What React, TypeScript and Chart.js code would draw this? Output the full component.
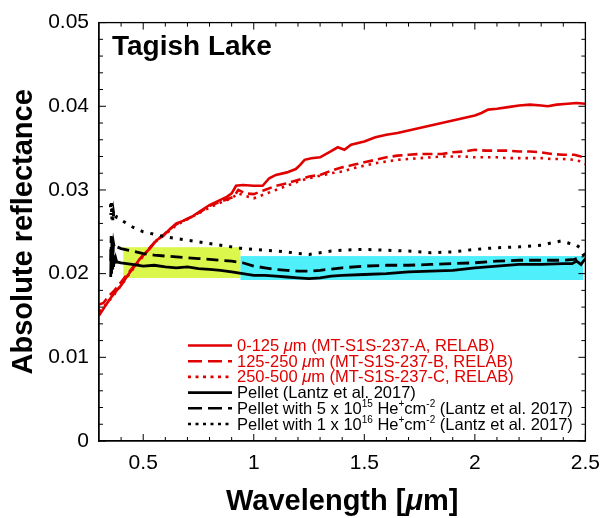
import React, { useEffect, useRef } from "react";
import { Chart, registerables } from "chart.js";

Chart.register(...registerables);

// ---------- axis ticks ----------
const X_TICKS = [0.5, 1, 1.5, 2, 2.5];
const X_TICK_LABELS = ["0.5", "1", "1.5", "2", "2.5"];
const X_MINOR = [0.4, 0.6, 0.7, 0.8, 0.9, 1.1, 1.2, 1.3, 1.4, 1.6, 1.7, 1.8, 1.9, 2.1, 2.2, 2.3, 2.4];
const Y_TICKS = [0, 0.01, 0.02, 0.03, 0.04, 0.05];
const Y_TICK_LABELS = ["0", "0.01", "0.02", "0.03", "0.04", "0.05"];
const Y_MINOR = [0.002, 0.004, 0.006, 0.008, 0.012, 0.014, 0.016, 0.018, 0.022, 0.024, 0.026, 0.028,
  0.032, 0.034, 0.036, 0.038, 0.042, 0.044, 0.046, 0.048];

// ---------- highlighted bands (wavelength range, reflectance range) ----------
const BAND_X = [[0.41, 0.94], [0.94, 2.49]];
const BAND_Y = [[0.01948, 0.02316], [0.01924, 0.0221]];

// ---------- series: 0-125 um (MT-S1S-237-A) ----------
const A_WL = [0.30, 0.32, 0.35, 0.38, 0.40, 0.43, 0.45, 0.48, 0.50, 0.53, 0.56, 0.59, 0.62, 0.65, 0.68, 0.72, 0.76, 0.80, 0.84, 0.88, 0.90, 0.92, 0.95, 1.00, 1.04, 1.07, 1.10, 1.15, 1.19, 1.21, 1.23, 1.26, 1.30, 1.34, 1.38, 1.41, 1.44, 1.50, 1.55, 1.60, 1.65, 1.70, 1.75, 1.80, 1.85, 1.90, 1.95, 2.00, 2.03, 2.06, 2.10, 2.15, 2.20, 2.25, 2.30, 2.33, 2.37, 2.42, 2.46, 2.50];
const A_R = [0.0150, 0.0158, 0.0170, 0.0180, 0.0186, 0.0198, 0.0205, 0.0216, 0.0222, 0.0230, 0.0240, 0.0245, 0.0253, 0.0260, 0.0263, 0.0268, 0.0275, 0.0282, 0.0287, 0.0292, 0.0296, 0.0305, 0.0306, 0.0305, 0.0305, 0.0314, 0.0318, 0.0321, 0.0325, 0.0330, 0.0336, 0.0338, 0.0339, 0.0345, 0.0351, 0.0348, 0.0354, 0.0358, 0.0363, 0.0366, 0.0368, 0.0371, 0.0374, 0.0377, 0.0380, 0.0383, 0.0386, 0.0389, 0.0392, 0.0396, 0.0397, 0.0399, 0.0401, 0.0402, 0.0401, 0.0400, 0.0402, 0.0403, 0.0404, 0.0403];

// ---------- series: 125-250 um (MT-S1S-237-B) ----------
const B_WL = [0.30, 0.32, 0.34, 0.37, 0.40, 0.43, 0.46, 0.50, 0.53, 0.56, 0.59, 0.62, 0.65, 0.68, 0.72, 0.76, 0.80, 0.84, 0.88, 0.91, 0.93, 0.96, 1.00, 1.05, 1.10, 1.15, 1.20, 1.25, 1.30, 1.35, 1.40, 1.45, 1.50, 1.55, 1.60, 1.65, 1.70, 1.75, 1.80, 1.85, 1.90, 1.95, 2.00, 2.05, 2.10, 2.15, 2.20, 2.25, 2.30, 2.35, 2.40, 2.45, 2.48, 2.50];
const B_R = [0.0163, 0.0165, 0.0172, 0.0180, 0.0190, 0.0200, 0.0210, 0.0222, 0.0231, 0.0240, 0.0246, 0.0253, 0.0259, 0.0263, 0.0268, 0.0274, 0.0281, 0.0285, 0.0289, 0.0292, 0.0300, 0.0296, 0.0295, 0.0300, 0.0305, 0.0308, 0.0312, 0.0316, 0.0318, 0.0323, 0.0327, 0.0330, 0.0333, 0.0336, 0.0339, 0.0341, 0.0342, 0.0343, 0.0343, 0.0343, 0.0345, 0.0346, 0.0348, 0.0347, 0.0347, 0.0347, 0.0346, 0.0346, 0.0345, 0.0343, 0.0342, 0.0342, 0.0340, 0.0340];

// ---------- series: 250-500 um (MT-S1S-237-C) ----------
const C_WL = [0.30, 0.33, 0.36, 0.40, 0.45, 0.50, 0.55, 0.60, 0.65, 0.70, 0.75, 0.80, 0.85, 0.90, 0.93, 0.96, 1.00, 1.05, 1.10, 1.15, 1.20, 1.25, 1.30, 1.35, 1.40, 1.45, 1.50, 1.55, 1.60, 1.65, 1.70, 1.75, 1.80, 1.85, 1.90, 1.95, 2.00, 2.05, 2.10, 2.15, 2.20, 2.25, 2.30, 2.35, 2.40, 2.45, 2.48, 2.50];
const C_R = [0.0155, 0.0163, 0.0172, 0.0186, 0.0204, 0.0221, 0.0237, 0.0247, 0.0258, 0.0265, 0.0272, 0.0279, 0.0285, 0.0290, 0.0296, 0.0293, 0.0290, 0.0295, 0.0300, 0.0305, 0.0310, 0.0314, 0.0317, 0.0320, 0.0322, 0.0326, 0.0329, 0.0332, 0.0334, 0.0336, 0.0337, 0.0338, 0.0339, 0.0340, 0.0340, 0.0340, 0.0339, 0.0339, 0.0339, 0.0338, 0.0338, 0.0338, 0.0338, 0.0337, 0.0337, 0.0336, 0.0334, 0.0331];

// ---------- series: Pellet (Lantz et al. 2017) ----------
const P_WL = [0.353, 0.355, 0.357, 0.359, 0.361, 0.363, 0.366, 0.369, 0.372, 0.376, 0.38, 0.40, 0.45, 0.50, 0.55, 0.60, 0.65, 0.70, 0.75, 0.80, 0.85, 0.90, 0.95, 1.00, 1.05, 1.10, 1.15, 1.20, 1.25, 1.30, 1.35, 1.40, 1.50, 1.60, 1.70, 1.80, 1.90, 2.00, 2.10, 2.20, 2.30, 2.40, 2.44, 2.46, 2.48, 2.50];
const P_R = [0.0196, 0.0232, 0.0200, 0.0238, 0.0205, 0.0230, 0.0208, 0.0222, 0.0212, 0.0218, 0.0214, 0.0213, 0.0211, 0.0209, 0.0210, 0.0208, 0.0207, 0.0208, 0.0206, 0.0205, 0.0204, 0.0202, 0.0200, 0.0198, 0.0198, 0.0197, 0.0196, 0.0195, 0.0194, 0.0195, 0.0197, 0.0198, 0.0199, 0.0200, 0.0202, 0.0203, 0.0204, 0.0207, 0.0209, 0.0211, 0.0211, 0.0212, 0.0212, 0.0215, 0.0211, 0.0218];

// ---------- series: Pellet with 5e15 He+ cm-2 ----------
const Q_WL = [0.353, 0.355, 0.357, 0.36, 0.363, 0.366, 0.37, 0.38, 0.40, 0.45, 0.50, 0.55, 0.60, 0.65, 0.70, 0.75, 0.80, 0.85, 0.90, 0.95, 1.00, 1.05, 1.10, 1.15, 1.20, 1.25, 1.30, 1.40, 1.50, 1.60, 1.70, 1.80, 1.90, 2.00, 2.10, 2.20, 2.30, 2.40, 2.45, 2.48, 2.50];
const Q_R = [0.0215, 0.0245, 0.0222, 0.0240, 0.0225, 0.0236, 0.0230, 0.0232, 0.0230, 0.0227, 0.0224, 0.0222, 0.0221, 0.0220, 0.0219, 0.0218, 0.0217, 0.0216, 0.0215, 0.0213, 0.0209, 0.0207, 0.0205, 0.0204, 0.0203, 0.0203, 0.0204, 0.0207, 0.0209, 0.0210, 0.0210, 0.0211, 0.0212, 0.0213, 0.0215, 0.0216, 0.0216, 0.0216, 0.0217, 0.0220, 0.0224];

// ---------- series: Pellet with 1e16 He+ cm-2 ----------
const S_WL = [0.352, 0.354, 0.356, 0.358, 0.36, 0.363, 0.366, 0.37, 0.38, 0.40, 0.45, 0.50, 0.55, 0.60, 0.65, 0.70, 0.75, 0.80, 0.85, 0.90, 0.95, 1.00, 1.05, 1.10, 1.15, 1.20, 1.25, 1.30, 1.35, 1.40, 1.50, 1.60, 1.70, 1.80, 1.90, 2.00, 2.10, 2.20, 2.30, 2.35, 2.39, 2.43, 2.46, 2.48, 2.50];
const S_R = [0.0283, 0.0270, 0.0285, 0.0265, 0.0278, 0.0262, 0.0272, 0.0265, 0.0268, 0.0264, 0.0256, 0.0250, 0.0247, 0.0244, 0.0242, 0.0240, 0.0238, 0.0236, 0.0234, 0.0232, 0.0230, 0.0229, 0.0228, 0.0227, 0.0226, 0.0224, 0.0223, 0.0225, 0.0227, 0.0228, 0.0229, 0.0228, 0.0227, 0.0225, 0.0226, 0.0229, 0.0231, 0.0232, 0.0234, 0.0237, 0.0239, 0.0236, 0.0234, 0.0230, 0.0233];

const FONT = '"Liberation Sans", Arial, Helvetica, sans-serif';
const RED = "#e10000";
const BLACK = "#000000";
const BAND_COLORS = ["#dcf74c", "#50effc"];

type Run = [string, "n" | "i" | "s"];

const LEGEND_ROWS: { color: string; dash: number[]; runs: Run[] }[] = [
  { color: RED, dash: [], runs: [["0-125 ", "n"], ["\u03bc", "i"], ["m (MT-S1S-237-A, RELAB)", "n"]] },
  { color: RED, dash: [14, 6], runs: [["125-250 ", "n"], ["\u03bc", "i"], ["m (MT-S1S-237-B, RELAB)", "n"]] },
  { color: RED, dash: [3, 4.5], runs: [["250-500 ", "n"], ["\u03bc", "i"], ["m (MT-S1S-237-C, RELAB)", "n"]] },
  { color: BLACK, dash: [], runs: [["Pellet (Lantz et al. 2017)", "n"]] },
  { color: BLACK, dash: [14, 6], runs: [["Pellet with 5 x 10", "n"], ["15", "s"], [" He", "n"], ["+", "s"], ["cm", "n"], ["-2", "s"], [" (Lantz et al. 2017)", "n"]] },
  { color: BLACK, dash: [3, 4.5], runs: [["Pellet with 1 x 10", "n"], ["16", "s"], [" He", "n"], ["+", "s"], ["cm", "n"], ["-2", "s"], [" (Lantz et al. 2017)", "n"]] },
];

function pts(xs: number[], ys: number[]) {
  return xs.map((x, i) => ({ x, y: ys[i] }));
}

const decorPlugin = {
  id: "decor",
  beforeDatasetsDraw(chart: any) {
    const { ctx, chartArea: ca, scales } = chart;
    const xs = scales.x, ys = scales.y;
    ctx.save();
    ctx.beginPath();
    ctx.rect(ca.left, ca.top, ca.right - ca.left, ca.bottom - ca.top);
    ctx.clip();
    BAND_X.forEach((bx, i) => {
      const by = BAND_Y[i];
      const x0 = xs.getPixelForValue(bx[0]);
      const x1 = xs.getPixelForValue(bx[1]);
      const y0 = ys.getPixelForValue(by[1]);
      const y1 = ys.getPixelForValue(by[0]);
      ctx.fillStyle = BAND_COLORS[i];
      ctx.fillRect(x0, y0, x1 - x0, y1 - y0);
    });
    ctx.restore();
  },
  afterDraw(chart: any) {
    const { ctx, chartArea: ca, scales } = chart;
    const xs = scales.x, ys = scales.y;
    ctx.save();
    // frame
    ctx.strokeStyle = "#000";
    ctx.lineWidth = 1.3;
    ctx.setLineDash([]);
    ctx.strokeRect(ca.left, ca.top, ca.right - ca.left, ca.bottom - ca.top);
    // ticks (inside, all four sides)
    ctx.lineWidth = 1;
    const tick = (x0: number, y0: number, x1: number, y1: number) => {
      ctx.beginPath();
      ctx.moveTo(x0, y0);
      ctx.lineTo(x1, y1);
      ctx.stroke();
    };
    const MAJ = 7, MIN = 4;
    X_TICKS.forEach((v) => {
      const p = xs.getPixelForValue(v);
      tick(p, ca.bottom, p, ca.bottom - MAJ);
      tick(p, ca.top, p, ca.top + MAJ);
    });
    X_MINOR.forEach((v) => {
      const p = xs.getPixelForValue(v);
      tick(p, ca.bottom, p, ca.bottom - MIN);
      tick(p, ca.top, p, ca.top + MIN);
    });
    Y_TICKS.forEach((v) => {
      const p = ys.getPixelForValue(v);
      tick(ca.left, p, ca.left + MAJ, p);
      tick(ca.right, p, ca.right - MAJ, p);
    });
    Y_MINOR.forEach((v) => {
      const p = ys.getPixelForValue(v);
      tick(ca.left, p, ca.left + MIN, p);
      tick(ca.right, p, ca.right - MIN, p);
    });

    // panel title
    ctx.fillStyle = "#000";
    ctx.textBaseline = "alphabetic";
    ctx.textAlign = "left";
    ctx.font = `bold 28px ${FONT}`;
    ctx.fillText("Tagish Lake", ca.left + 13, ca.top + 32);

    // x axis title with italic mu
    const xt: [string, string][] = [
      ["Wavelength [", `bold 29px ${FONT}`],
      ["\u03bc", `italic bold 29px ${FONT}`],
      ["m]", `bold 29px ${FONT}`],
    ];
    let tw = 0;
    xt.forEach(([t, f]) => { ctx.font = f; tw += ctx.measureText(t).width; });
    let cx = (ca.left + ca.right) / 2 - tw / 2;
    xt.forEach(([t, f]) => { ctx.font = f; ctx.fillText(t, cx, ca.bottom + 69); cx += ctx.measureText(t).width; });

    // legend
    const lx0 = ca.left + 89, lx1 = ca.left + 133, tx = ca.left + 138;
    const base0 = ca.bottom - 90, step = 15.7;
    LEGEND_ROWS.forEach((row, i) => {
      const by = base0 + i * step;
      ctx.strokeStyle = row.color;
      ctx.lineWidth = 2.6;
      ctx.setLineDash(row.dash);
      ctx.beginPath();
      ctx.moveTo(lx0, by - 5.5);
      ctx.lineTo(lx1, by - 5.5);
      ctx.stroke();
      ctx.setLineDash([]);
      ctx.fillStyle = row.color;
      let x = tx;
      row.runs.forEach(([t, k]) => {
        if (k === "s") {
          ctx.font = `10px ${FONT}`;
          ctx.fillText(t, x, by - 7);
        } else {
          ctx.font = `${k === "i" ? "italic " : ""}16.5px ${FONT}`;
          ctx.fillText(t, x, by);
        }
        x += ctx.measureText(t).width;
      });
    });
    ctx.restore();
  },
};

export default function App() {
  const ref = useRef<HTMLCanvasElement | null>(null);
  useEffect(() => {
    if (!ref.current) return;
    const line = (data: any, color: string, dash: number[], width: number) => ({
      data,
      showLine: true,
      borderColor: color,
      backgroundColor: color,
      borderWidth: width,
      borderDash: dash,
      pointRadius: 0,
      tension: 0,
    });
    const chart = new Chart(ref.current, {
      type: "scatter",
      data: {
        datasets: [
          line(pts(S_WL, S_R), BLACK, [3, 7], 3),
          line(pts(Q_WL, Q_R), BLACK, [12, 6], 2.8),
          line(pts(P_WL, P_R), BLACK, [], 2.8),
          line(pts(C_WL, C_R), RED, [2.5, 5], 2.6),
          line(pts(B_WL, B_R), RED, [10, 5], 2.6),
          line(pts(A_WL, A_R), RED, [], 2.6),
        ] as any,
      },
      options: {
        animation: false,
        responsive: false,
        maintainAspectRatio: false,
        layout: { padding: { left: 0, right: 18, top: 20, bottom: 0 } },
        plugins: { legend: { display: false }, tooltip: { enabled: false }, title: { display: false } },
        scales: {
          x: {
            type: "linear",
            min: 0.3,
            max: 2.5,
            grid: { display: false, drawTicks: false },
            border: { display: true, color: "#000", width: 1.3 },
            afterBuildTicks: (s: any) => { s.ticks = X_TICKS.map((v) => ({ value: v })); },
            afterFit: (s: any) => { s.height = 77; },
            ticks: {
              color: "#000",
              padding: 10,
              maxRotation: 0,
              autoSkip: false,
              font: { family: FONT, size: 21 },
              callback: (v: any) => { const i = X_TICKS.indexOf(Number(v)); return i >= 0 ? X_TICK_LABELS[i] : ""; },
            },
          },
          y: {
            type: "linear",
            min: 0,
            max: 0.05,
            grid: { display: false, drawTicks: false },
            border: { display: true, color: "#000", width: 1.3 },
            afterBuildTicks: (s: any) => { s.ticks = Y_TICKS.map((v) => ({ value: v })); },
            afterFit: (s: any) => { s.width = 99; },
            title: {
              display: true,
              text: "Absolute reflectance",
              color: "#000",
              font: { family: FONT, size: 29, weight: "bold" },
              padding: { top: 6.5, bottom: 0 },
            },
            ticks: {
              color: "#000",
              padding: 10,
              autoSkip: false,
              font: { family: FONT, size: 21 },
              callback: (v: any) => { const i = Y_TICKS.indexOf(Number(v)); return i >= 0 ? Y_TICK_LABELS[i] : ""; },
            },
          },
        },
      } as any,
      plugins: [decorPlugin as any],
    });
    return () => chart.destroy();
  }, []);
  return (
    <div style={{ position: "absolute", left: 0, top: 0, width: 610, height: 518, background: "#fff" }}>
      <canvas ref={ref} width={610} height={518} style={{ display: "block", width: 610, height: 518 }} />
    </div>
  );
}
